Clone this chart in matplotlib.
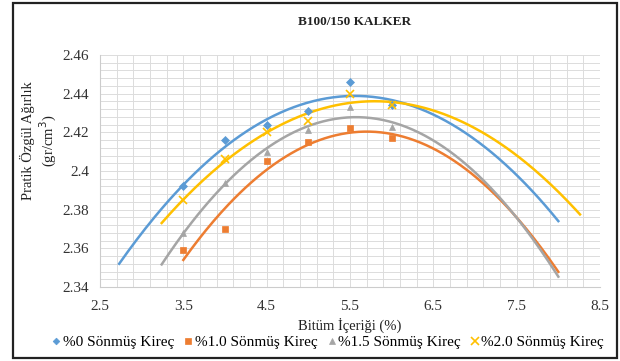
import numpy as np
import matplotlib
matplotlib.use("Agg")
import matplotlib.pyplot as plt
from matplotlib.ticker import MultipleLocator
from matplotlib.patches import Rectangle

plt.rcParams['font.family'] = ['Liberation Serif', 'DejaVu Serif']

# bitumen content (%)
bitum = [3.5, 4.0, 4.5, 5.0, 5.5, 6.0]

# practical specific gravity for each lime ratio
kirec_0 = [2.392, 2.416, 2.424, 2.431, 2.446, 2.434]
kirec_10 = [2.359, 2.370, 2.405, 2.415, 2.422, 2.417]
kirec_15 = [2.368, 2.394, 2.410, 2.421, 2.433, 2.423]
kirec_20 = [2.385, 2.406, 2.420, 2.426, 2.440, 2.434]

labels = ['%0 Sönmüş Kireç', '%1.0 Sönmüş Kireç',
          '%1.5 Sönmüş Kireç', '%2.0 Sönmüş Kireç']
# trendline x extents (Excel forecast backward / forward)
trend_from = [2.73, 3.5, 3.24, 3.24]
trend_to = [8.0, 8.0, 8.0, 8.26]

colors = ['#5B9BD5', '#ED7D31', '#A5A5A5', '#FFC000']
markers = ['D', 's', '^', 'x']
msizes = [4, 5, 5, 6]

fig = plt.figure(figsize=(6.2, 3.61), dpi=100)
W, H = 620, 361

# outer chart border
fig.patches.append(Rectangle((13 / W, 1 - 358 / H), 604 / W, 355 / H,
                             transform=fig.transFigure, fill=False,
                             edgecolor='#222222', linewidth=1.6))

ax = fig.add_axes([100 / W, 1 - 287 / H, 500 / W, 232 / H])

series = [kirec_0, kirec_10, kirec_15, kirec_20]
for i, ys in enumerate(series):
    coef = np.polyfit(bitum, ys, 2)
    xx = np.linspace(trend_from[i], trend_to[i], 200)
    ax.plot(xx, np.polyval(coef, xx), color=colors[i], lw=1.8, zorder=3)

for i, ys in enumerate(series):
    ax.plot(bitum, ys, linestyle='none', marker=markers[i], ms=msizes[i],
            color=colors[i], mew=1.2 if markers[i] == 'x' else 0.5,
            label=labels[i], zorder=4)

ax.set_xlim(2.5, 8.5)
ax.set_ylim(2.34, 2.46)
ax.xaxis.set_major_locator(MultipleLocator(1.0, offset=0.5))
ax.xaxis.set_minor_locator(MultipleLocator(0.2, offset=0.1))
ax.yaxis.set_major_locator(MultipleLocator(0.02))
ax.yaxis.set_minor_locator(MultipleLocator(0.004))
ax.xaxis.set_major_formatter(plt.FuncFormatter(lambda v, p: f'{v:g}'))
ax.yaxis.set_major_formatter(plt.FuncFormatter(lambda v, p: f'{round(v, 2):g}'))

ax.grid(which='both', color='#DCDCDC', lw=0.7)
ax.set_axisbelow(True)
for s in ['top', 'right']:
    ax.spines[s].set_visible(False)
for s in ['left', 'bottom']:
    ax.spines[s].set_color('#CCCCCC')
ax.tick_params(which='both', length=0, labelsize=11, colors='#333333')
ax.tick_params(axis='x', pad=9)
ax.tick_params(axis='y', pad=8)

ax.set_xlabel('Bitüm İçeriği (%)', fontsize=10.5, color='#222222', labelpad=4)
ax.set_ylabel('Pratik Özgül Ağırlık\n(gr/cm$^3$)', fontsize=10.5,
              color='#222222')
ax.yaxis.set_label_coords(-0.082, 0.63)

fig.text(355 / W, 1 - 22 / H, 'B100/150 KALKER', fontsize=9.5,
         fontweight='bold', ha='center', va='center', color='#222222')

fig.legend(loc='center', bbox_to_anchor=(328 / W, 1 - 342 / H), ncol=4,
           frameon=False, fontsize=11, handlelength=0.6, handletextpad=0.1,
           columnspacing=0.65, borderaxespad=0, markerscale=0.85)

fig.savefig('out.png', dpi=100)
